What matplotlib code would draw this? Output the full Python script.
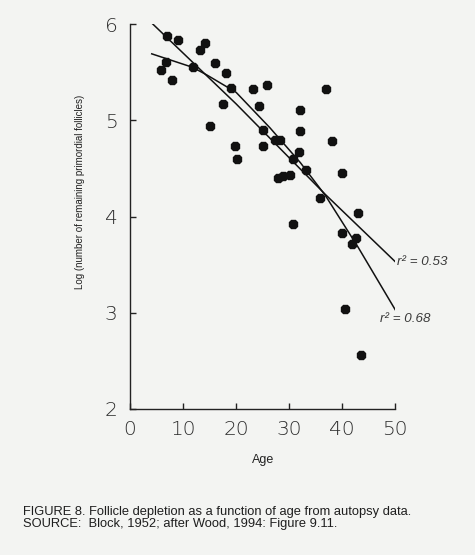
import numpy as np
import matplotlib
matplotlib.use("Agg")
import matplotlib.pyplot as plt

# autopsy data (age in years, log10 follicle count)
age = [6.9, 9.1, 14.2, 13.1, 6.8, 5.8, 7.9, 11.8, 16.0, 18.1,
       19.0, 17.6, 15.1, 25.9, 23.2, 24.3, 25.0, 19.8, 20.1, 25.0,
       37.0, 32.1, 32.1, 38.1, 27.4, 28.3, 31.9, 30.8, 33.1, 39.9,
       27.8, 28.9, 30.1, 35.8, 42.9, 30.8, 39.9, 42.6, 41.8, 40.6,
       43.6]
log_follicles = [5.88, 5.83, 5.80, 5.73, 5.61, 5.52, 5.42, 5.55, 5.59, 5.49,
                 5.34, 5.17, 4.94, 5.37, 5.32, 5.15, 4.90, 4.73, 4.60, 4.73,
                 5.32, 5.11, 4.89, 4.78, 4.79, 4.79, 4.67, 4.60, 4.48, 4.45,
                 4.40, 4.42, 4.43, 4.19, 4.04, 3.92, 3.83, 3.78, 3.71, 3.04,
                 2.56]

# fitted curves
fit_a_age = [4.1, 20.0, 36.8, 50.0]
fit_a_val = [6.01, 5.17, 4.23, 3.53]
fit_b_age = [4.1, 11.8, 14.5, 20.0, 26.4, 32.1, 36.8, 43.0, 50.0]
fit_b_val = [5.69, 5.55, 5.47, 5.29, 4.92, 4.56, 4.22, 3.68, 3.03]

r2_labels = ["r² = 0.53", "r² = 0.68"]

x_ticks = [0, 10, 20, 30, 40, 50]
y_ticks = [2, 3, 4, 5, 6]

caption = ["FIGURE 8. Follicle depletion as a function of age from autopsy data.",
           "SOURCE:  Block, 1952; after Wood, 1994: Figure 9.11."]

bg = "#f3f4f2"
ink = "#111111"
grey = "#3a3a3a"

fig = plt.figure(figsize=(4.75, 5.55), dpi=100, facecolor=bg)
ax = fig.add_axes([130 / 475, 146 / 555, 265.3 / 475, 385 / 555])
ax.set_facecolor(bg)

ax.plot(age, log_follicles, linestyle="none", marker="8", markersize=6.8,
        color=ink, zorder=3)
ax.plot(fit_a_age, fit_a_val, color=ink, lw=1.1, zorder=2)
ax.plot(fit_b_age, fit_b_val, color=ink, lw=1.1, zorder=2)

# r^2 annotations at the end of each curve
ax.text(50.4, 3.53, r2_labels[0], fontsize=9.6, style="italic",
        family="Liberation Sans", color=grey, ha="left", va="center", clip_on=False)
ax.text(47.2, 2.93, r2_labels[1], fontsize=9.6, style="italic",
        family="Liberation Sans", color=grey, ha="left", va="center", clip_on=False)

ax.set_xlim(0, 50)
ax.set_ylim(2, 6)
ax.set_xticks(x_ticks)
ax.set_yticks(y_ticks)
for s in ["top", "right"]:
    ax.spines[s].set_visible(False)
for s in ["left", "bottom"]:
    ax.spines[s].set_color("#222222")
    ax.spines[s].set_linewidth(1.0)

ax.tick_params(axis="both", direction="in", length=4, width=1.0, color="#222222",
               labelsize=14.5, labelcolor="#2e2e2e")
ax.tick_params(axis="x", pad=8)
ax.tick_params(axis="y", pad=9)
for lab in ax.get_xticklabels() + ax.get_yticklabels():
    lab.set_fontweight("light")

ax.set_xlabel("Age", fontsize=9, family="Liberation Sans", color="#222222")
ax.xaxis.set_label_coords(0.501, -0.117)
ax.set_ylabel("Log (number of remaining primordial follicles)", fontsize=7,
              family="Liberation Sans", color="#222222")
ax.yaxis.set_label_coords(-0.168, 0.564)

fig.text(23 / 475, 1 - 515 / 555, caption[0], fontsize=9.3,
         family="Liberation Sans", color="#1e1e1e", va="baseline")
fig.text(23 / 475, 1 - 527 / 555, caption[1], fontsize=9.3,
         family="Liberation Sans", color="#1e1e1e", va="baseline")

fig.savefig("out.png", dpi=100, facecolor=bg)
